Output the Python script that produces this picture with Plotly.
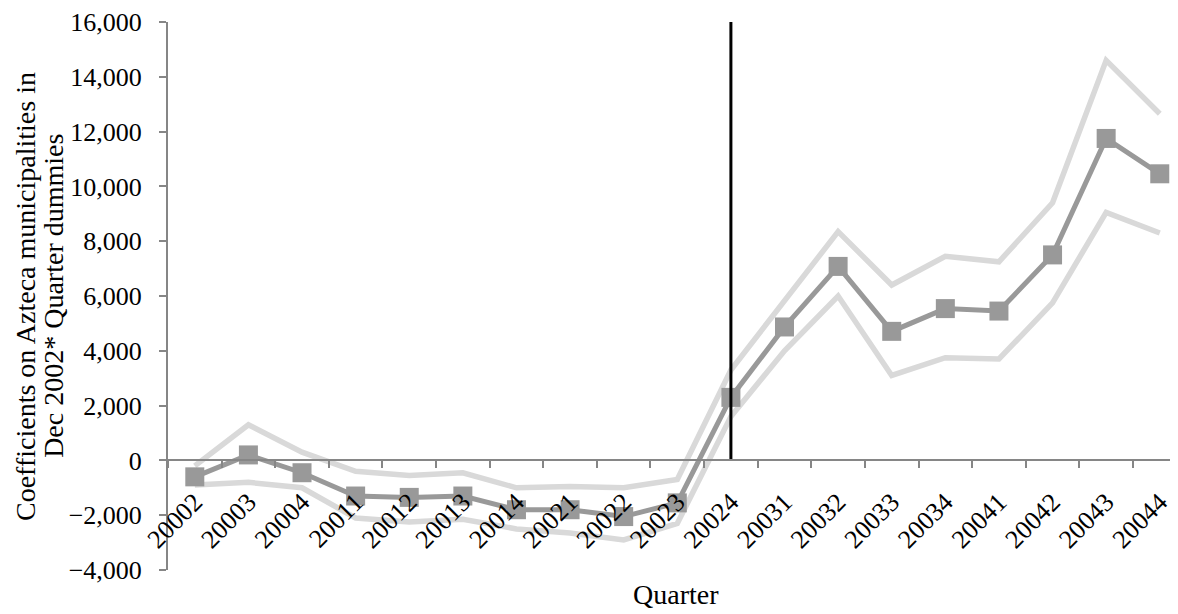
import plotly.graph_objects as go

quarters = ["20002", "20003", "20004", "20011", "20012", "20013", "20014",
            "20021", "20022", "20023", "20024", "20031", "20032", "20033",
            "20034", "20041", "20042", "20043", "20044"]

coef = [-600, 200, -450, -1300, -1350, -1300, -1800, -1800, -2050, -1550,
        2300, 4870, 7080, 4710, 5540, 5450, 7500, 11750, 10460]

upper = [-200, 1300, 300, -400, -550, -450, -1000, -950, -1000, -700,
         3300, 5800, 8350, 6400, 7450, 7250, 9400, 14600, 12650]

lower = [-900, -800, -1000, -2100, -2250, -2150, -2500, -2650, -2900, -2300,
         1600, 4000, 6000, 3100, 3750, 3700, 5750, 9050, 8300]

event_quarter = "20024"
y_min, y_max, y_step = -4000, 16000, 2000

title_line1 = "Coefficients on Azteca municipalities in"
title_line2 = "Dec 2002* Quarter dummies"
x_title = "Quarter"

FONT = "Liberation Serif, Times New Roman, serif"
AXIS_GRAY = "#868686"

fig = go.Figure()

fig.add_trace(go.Scatter(x=quarters, y=upper, mode="lines",
                         line=dict(color="#d9d9d9", width=5.5), showlegend=False))
fig.add_trace(go.Scatter(x=quarters, y=lower, mode="lines",
                         line=dict(color="#d9d9d9", width=5.5), showlegend=False))
fig.add_trace(go.Scatter(x=quarters, y=coef, mode="lines+markers",
                         line=dict(color="#999999", width=5),
                         marker=dict(symbol="square", size=19, color="#999999"),
                         showlegend=False))
fig.add_trace(go.Scatter(x=[event_quarter, event_quarter], y=[0, y_max], mode="lines",
                         line=dict(color="black", width=3), showlegend=False))

fig.update_layout(
    width=1170, height=606,
    margin=dict(l=160, r=0, t=9, b=44),
    paper_bgcolor="white", plot_bgcolor="white",
    font=dict(family=FONT, size=26, color="black"),
    xaxis=dict(
        type="category", categoryorder="array", categoryarray=quarters,
        range=[-0.5, 18.34],
        anchor="free", position=(0 - y_min) / (y_max - y_min),
        showline=True, linecolor=AXIS_GRAY, linewidth=2,
        ticks="outside", tickson="boundaries", ticklen=7, tickcolor=AXIS_GRAY, tickwidth=2,
        tickangle=-45, showgrid=False, zeroline=False, ticklabelstandoff=15,
        ticklabeloverflow="allow",
        tickfont=dict(family=FONT, size=26, color="black"),
    ),
    yaxis=dict(
        range=[y_min, y_max], dtick=y_step, tick0=0, tickformat=",",
        showline=True, linecolor=AXIS_GRAY, linewidth=2,
        ticks="outside", ticklen=7, tickcolor=AXIS_GRAY, tickwidth=2,
        showgrid=False, zeroline=False, ticklabelstandoff=12,
        ticklabeloverflow="allow",
        tickfont=dict(family=FONT, size=26, color="black"),
    ),
    annotations=[
        dict(text=title_line1, xref="paper", yref="paper", x=-0.1416, y=0.5,
             xanchor="center", yanchor="middle", textangle=-90, showarrow=False,
             font=dict(family=FONT, size=28, color="black")),
        dict(text=title_line2, xref="paper", yref="paper", x=-0.1140, y=0.5,
             xanchor="center", yanchor="middle", textangle=-90, showarrow=False,
             font=dict(family=FONT, size=28, color="black")),
        dict(text=x_title, xref="paper", yref="paper", x=0.503, y=-0.045,
             xanchor="center", yanchor="middle", showarrow=False,
             font=dict(family=FONT, size=28, color="black")),
    ],
)

fig.write_html("out.html")
